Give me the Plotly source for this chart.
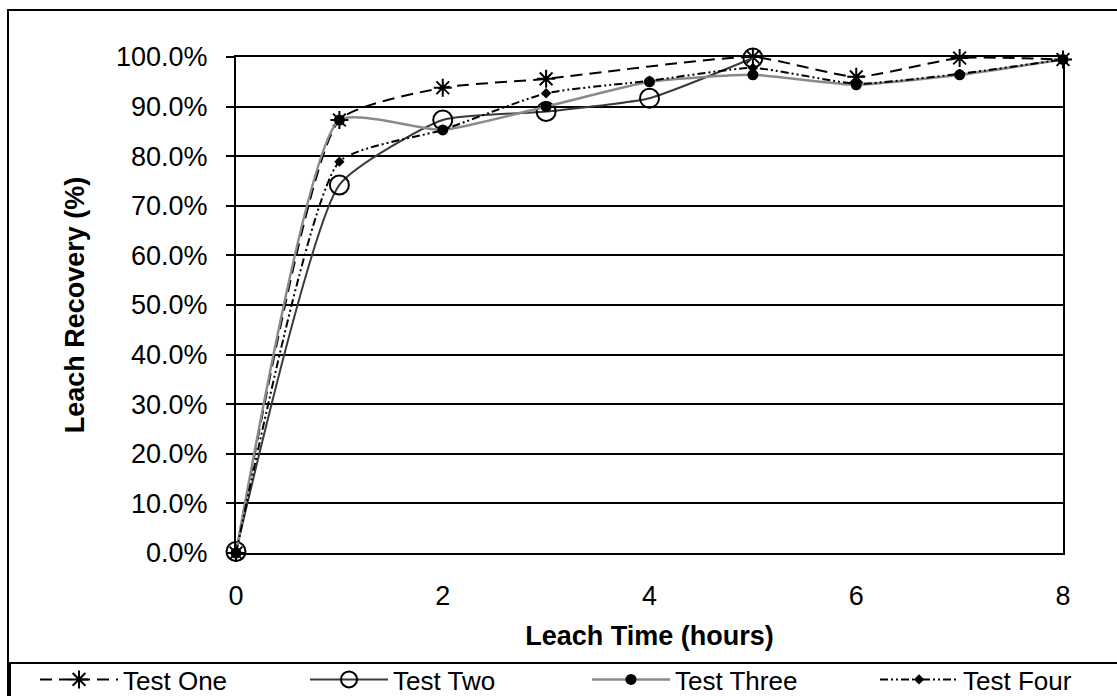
import plotly.graph_objects as go

# Data (leach recovery, %)
x_one = [0, 1, 2, 3, 5, 6, 7, 8]
y_one = [0.0, 87.3, 93.8, 95.6, 100.0, 96.0, 99.8, 99.5]

x_two = [0, 1, 2, 3, 4, 5]
y_two = [0.3, 74.2, 87.3, 89.0, 91.7, 99.8]

x_three = [0, 1, 2, 3, 4, 5, 6, 7, 8]
y_three = [0.0, 87.3, 85.3, 90.0, 95.0, 96.4, 94.4, 96.4, 99.5]

x_four = [0, 1, 2, 3, 4, 5, 6, 7, 8]
y_four = [0.0, 78.9, 85.3, 92.7, 95.2, 97.8, 94.6, 96.6, 99.5]

x_ticks = [0, 2, 4, 6, 8]
y_ticks = [0, 10, 20, 30, 40, 50, 60, 70, 80, 90, 100]

FONT = "Arial, Liberation Sans, sans-serif"
W, H = 1117, 696
L, R, T, B = 236, 54, 57, 143
pw, ph = W - L - R, H - T - B
SMOOTH = 0.5

def px_x(p):
    return (p - L) / pw

def px_y(p):
    return (H - B - p) / ph

fig = go.Figure()

fig.add_trace(go.Scatter(
    x=x_one, y=y_one, name="Test One", mode="lines+markers", legend="legend",
    line=dict(color="black", width=2, dash="12px,7px", shape="spline", smoothing=SMOOTH),
    marker=dict(symbol="asterisk-open", size=15, color="black",
                line=dict(color="black", width=2)),
    cliponaxis=False,
))
fig.add_trace(go.Scatter(
    x=x_two, y=y_two, name="Test Two", mode="lines+markers", legend="legend2",
    line=dict(color="#3a3a3a", width=2, shape="spline", smoothing=SMOOTH),
    marker=dict(symbol="circle-open", size=19, color="black",
                line=dict(color="black", width=2)),
    cliponaxis=False,
))
fig.add_trace(go.Scatter(
    x=x_three, y=y_three, name="Test Three", mode="lines+markers", legend="legend3",
    line=dict(color="#8a8a8a", width=2.5, shape="spline", smoothing=SMOOTH),
    marker=dict(symbol="circle", size=11, color="black"),
    cliponaxis=False,
))
fig.add_trace(go.Scatter(
    x=x_four, y=y_four, name="Test Four", mode="lines+markers", legend="legend4",
    line=dict(color="black", width=2, dash="8px,3px,2px,3px,2px,3px", shape="spline",
              smoothing=SMOOTH),
    marker=dict(symbol="diamond", size=8, color="black"),
    cliponaxis=False,
))

# chart-area border and legend box (drawn in paper coordinates)
fig.add_shape(type="rect", xref="paper", yref="paper",
              x0=px_x(8), x1=px_x(1130), y0=px_y(710), y1=px_y(10),
              line=dict(color="black", width=2), fillcolor="rgba(0,0,0,0)", layer="below")
fig.add_shape(type="line", xref="paper", yref="paper",
              x0=px_x(8), x1=px_x(1130), y0=px_y(663), y1=px_y(663),
              line=dict(color="black", width=2))
fig.add_shape(type="line", xref="paper", yref="paper",
              x0=px_x(10), x1=px_x(10), y0=px_y(663), y1=px_y(710),
              line=dict(color="black", width=2))

def legend_at(px_left):
    return dict(
        orientation="h", x=px_x(px_left), xanchor="left", y=px_y(656), yanchor="top",
        itemwidth=78, font=dict(family=FONT, size=26, color="black"),
        bgcolor="rgba(0,0,0,0)",
    )

fig.update_layout(
    width=W, height=H,
    margin=dict(l=L, r=R, t=T, b=B, autoexpand=False),
    paper_bgcolor="white", plot_bgcolor="white",
    font=dict(family=FONT, size=27, color="black"),
    showlegend=True,
    legend=legend_at(35),
    legend2=legend_at(305),
    legend3=legend_at(587),
    legend4=legend_at(875),
    xaxis=dict(
        range=[0, 8], tickvals=x_ticks, ticktext=[str(v) for v in x_ticks],
        showgrid=False, zeroline=False, ticks="", showline=True, mirror=True,
        linecolor="black", linewidth=2, ticklabelstandoff=18,
        tickfont=dict(family=FONT, size=27, color="black"),
        title=dict(text="<b>Leach Time (hours)</b>", standoff=16,
                   font=dict(family=FONT, size=27, color="black")),
        automargin=False,
    ),
    yaxis=dict(
        range=[0, 100], tickvals=y_ticks, ticktext=[f"{v:.1f}%" for v in y_ticks],
        showgrid=True, gridcolor="black", gridwidth=2, zeroline=False,
        ticks="outside", ticklen=8, tickwidth=2, tickcolor="black",
        showline=True, mirror=True, linecolor="black", linewidth=2,
        ticklabelstandoff=13,
        tickfont=dict(family=FONT, size=27, color="black"),
        title=dict(text="<b>Leach Recovery (%)</b>", standoff=24,
                   font=dict(family=FONT, size=27, color="black")),
        automargin=False,
    ),
)

fig.write_html(
    "out.html",
    config={"displayModeBar": False},
    post_script="document.body.style.margin='0px';document.body.style.overflow='hidden';",
)
